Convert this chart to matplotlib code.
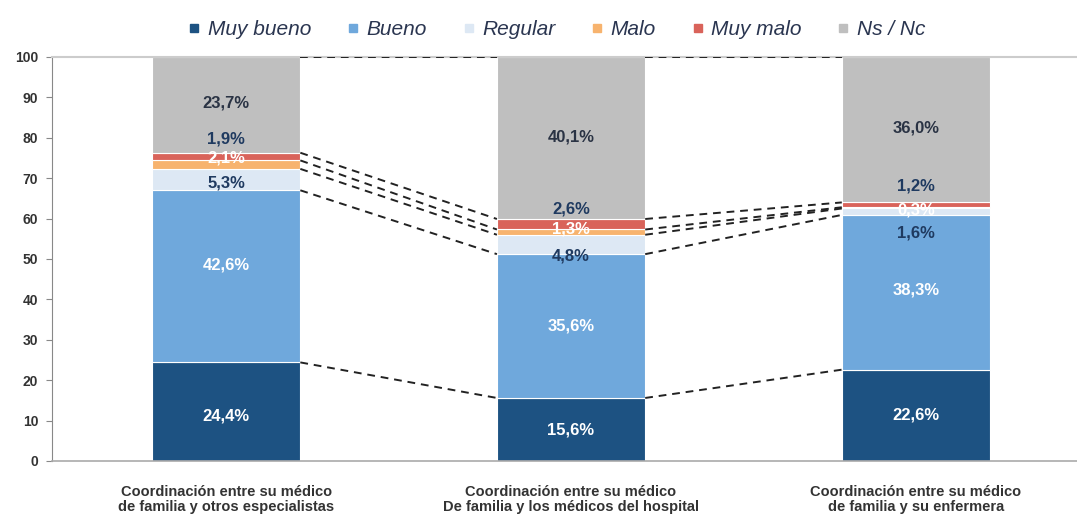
import matplotlib.pyplot as plt
import numpy as np
from matplotlib.lines import Line2D

plt.rcParams['font.family'] = ['Liberation Sans', 'DejaVu Sans']

# Data (percentages per category, bottom to top)
categories = [
    "Coordinación entre su médico\nde familia y otros especialistas",
    "Coordinación entre su médico\nDe familia y los médicos del hospital",
    "Coordinación entre su médico\nde familia y su enfermera",
]
series_names = ["Muy bueno", "Bueno", "Regular", "Malo", "Muy malo", "Ns / Nc"]
muy_bueno = [24.4, 15.6, 22.6]
bueno = [42.6, 35.6, 38.3]
regular = [5.3, 4.8, 1.6]
malo = [2.1, 1.3, 0.3]
muy_malo = [1.9, 2.6, 1.2]
ns_nc = [23.7, 40.1, 36.0]

series = [muy_bueno, bueno, regular, malo, muy_malo, ns_nc]
colors = ["#1d5282", "#6fa8dc", "#dde8f4", "#f7b36e", "#d9635a", "#bfbfbf"]
label_colors = ["white", "white", "#1f3a60", "white", "#1f3a60", "#2a3344"]

# label offsets from segment centre (the original labels were hand placed)
label_shift = np.array([
    [-1.1, 2.8, -0.85, 1.65, 4.35, 0.45],
    [-0.1, 0.0, -2.9, 0.75, 3.8, 0.25],
    [0.1, 0.55, -5.3, -0.55, 4.6, 0.4],
])

fig = plt.figure(figsize=(10.77, 5.21), dpi=100)
ax = fig.add_axes([0.0483, 0.1152, 0.9517, 0.7754])

x = np.arange(len(categories))
width = 0.43
bottom = np.zeros(len(categories))
tops = []
for i, (vals, col) in enumerate(zip(series, colors)):
    vals = np.array(vals)
    ax.bar(x, vals, width, bottom=bottom, color=col, edgecolor="white",
           linewidth=0.8, label=series_names[i], zorder=2)
    for j in range(len(x)):
        yc = bottom[j] + vals[j] / 2 + label_shift[j, i]
        ax.text(x[j], yc, f"{vals[j]:.1f}%".replace(".", ","), ha="center",
                va="center", fontsize=12, fontweight="bold",
                color=label_colors[i], zorder=4)
    bottom = bottom + vals
    tops.append(bottom.copy())

# series lines between bars
for t in tops:
    for j in range(len(x) - 1):
        ax.plot([x[j] + width / 2, x[j + 1] - width / 2], [t[j], t[j + 1]],
                color="#222222", linestyle=(0, (4, 3)), linewidth=1.4, zorder=3)

ax.set_xlim(-0.505, 2.467)
ax.set_ylim(0, 100)
ax.set_yticks(range(0, 101, 10))
ax.set_xticks(x)
ax.set_xticklabels(categories, fontsize=10.5, fontweight="bold", color="#333333",
                   linespacing=1.15)
ax.tick_params(axis="x", length=0, pad=17)
ax.tick_params(axis="y", length=4, color="#888888", labelsize=10, pad=6)
for lab in ax.get_yticklabels():
    lab.set_fontweight("bold")
    lab.set_color("#333333")

ax.spines["right"].set_visible(False)
ax.spines["top"].set_color("#cccccc")
ax.spines["top"].set_linewidth(1.5)
ax.spines["left"].set_color("#888888")
ax.spines["bottom"].set_color("#aaaaaa")
ax.spines["bottom"].set_linewidth(1.2)

handles = [Line2D([], [], marker="s", linestyle="", markersize=6, color=c)
           for c in colors]
leg = fig.legend(handles, series_names, loc="center", ncol=6,
                 bbox_to_anchor=(0.516, 0.943), frameon=False, fontsize=15,
                 handletextpad=0.25, columnspacing=1.6, handlelength=0.8)
for t in leg.get_texts():
    t.set_fontstyle("italic")
    t.set_color("#2a3550")

fig.savefig("out.png", dpi=100)
